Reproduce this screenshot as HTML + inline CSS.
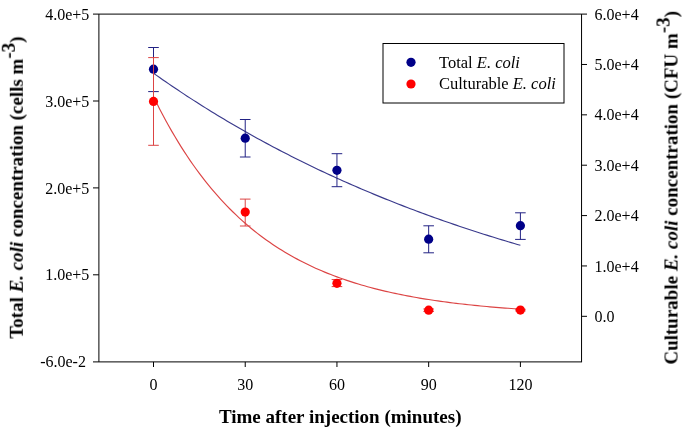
<!DOCTYPE html>
<html><head><meta charset="utf-8"><style>
html,body{margin:0;padding:0;background:#fff;}
svg{display:block;} .t{filter:grayscale(1);}
text{font-family:"Liberation Serif",serif;}
</style></head><body>
<svg width="685" height="431" viewBox="0 0 685 431">
<rect width="685" height="431" fill="#fff"/>
<g stroke="#000" stroke-width="1" fill="none">
<path d="M98.9,14.1V361.9M93,14.1H587M581.55,14.1V361.9M93,361.9H582.05"/>
<path d="M93,101.00H98.9"/>
<path d="M93,187.90H98.9"/>
<path d="M93,274.80H98.9"/>
<path d="M581.55,64.47H587"/>
<path d="M581.55,114.84H587"/>
<path d="M581.55,165.21H587"/>
<path d="M581.55,215.58H587"/>
<path d="M581.55,265.95H587"/>
<path d="M581.55,316.32H587"/>
<path d="M153.50,361.9V367"/>
<path d="M245.22,361.9V367"/>
<path d="M336.95,361.9V367"/>
<path d="M428.67,361.9V367"/>
<path d="M520.40,361.9V367"/>
</g>
<g class="t" font-size="16" fill="#000">
<text x="89.3" y="19.70" text-anchor="end">4.0e+5</text>
<text x="89.3" y="106.60" text-anchor="end">3.0e+5</text>
<text x="89.3" y="193.50" text-anchor="end">2.0e+5</text>
<text x="89.3" y="280.40" text-anchor="end">1.0e+5</text>
<text x="85.9" y="367.30" text-anchor="end">-6.0e-2</text>
<text x="594.5" y="19.70">6.0e+4</text>
<text x="594.5" y="70.07">5.0e+4</text>
<text x="594.5" y="120.44">4.0e+4</text>
<text x="594.5" y="170.81">3.0e+4</text>
<text x="594.5" y="221.18">2.0e+4</text>
<text x="594.5" y="271.55">1.0e+4</text>
<text x="594.5" y="321.92">0.0</text>
<text x="153.50" y="389.6" text-anchor="middle">0</text>
<text x="245.22" y="389.6" text-anchor="middle">30</text>
<text x="336.95" y="389.6" text-anchor="middle">60</text>
<text x="428.67" y="389.6" text-anchor="middle">90</text>
<text x="520.40" y="389.6" text-anchor="middle">120</text>
</g>
<path d="M153.50,73.24 L156.56,75.40 L159.62,77.55 L162.67,79.68 L165.73,81.79 L168.79,83.89 L171.84,85.97 L174.90,88.03 L177.96,90.08 L181.02,92.12 L184.07,94.14 L187.13,96.15 L190.19,98.14 L193.25,100.11 L196.31,102.07 L199.36,104.02 L202.42,105.95 L205.48,107.87 L208.53,109.77 L211.59,111.66 L214.65,113.54 L217.71,115.40 L220.76,117.25 L223.82,119.08 L226.88,120.90 L229.94,122.71 L233.00,124.50 L236.05,126.29 L239.11,128.05 L242.17,129.81 L245.22,131.55 L248.28,133.28 L251.34,134.99 L254.40,136.69 L257.45,138.38 L260.51,140.06 L263.57,141.73 L266.63,143.38 L269.69,145.02 L272.74,146.65 L275.80,148.26 L278.86,149.87 L281.91,151.46 L284.97,153.04 L288.03,154.61 L291.09,156.17 L294.14,157.71 L297.20,159.25 L300.26,160.77 L303.32,162.28 L306.38,163.78 L309.43,165.27 L312.49,166.75 L315.55,168.21 L318.61,169.67 L321.66,171.12 L324.72,172.55 L327.78,173.97 L330.83,175.39 L333.89,176.79 L336.95,178.18 L340.01,179.57 L343.06,180.94 L346.12,182.30 L349.18,183.65 L352.24,184.99 L355.30,186.32 L358.35,187.65 L361.41,188.96 L364.47,190.26 L367.52,191.55 L370.58,192.84 L373.64,194.11 L376.70,195.37 L379.75,196.63 L382.81,197.87 L385.87,199.11 L388.93,200.34 L391.99,201.56 L395.04,202.76 L398.10,203.96 L401.16,205.16 L404.22,206.34 L407.27,207.51 L410.33,208.68 L413.39,209.83 L416.44,210.98 L419.50,212.12 L422.56,213.25 L425.62,214.37 L428.67,215.49 L431.73,216.59 L434.79,217.69 L437.85,218.78 L440.90,219.86 L443.96,220.93 L447.02,222.00 L450.08,223.05 L453.13,224.10 L456.19,225.15 L459.25,226.18 L462.31,227.21 L465.36,228.22 L468.42,229.24 L471.48,230.24 L474.54,231.24 L477.59,232.22 L480.65,233.21 L483.71,234.18 L486.77,235.15 L489.82,236.11 L492.88,237.06 L495.94,238.00 L499.00,238.94 L502.05,239.88 L505.11,240.80 L508.17,241.72 L511.23,242.63 L514.28,243.53 L517.34,244.43 L520.40,245.32" stroke="#3a3a8c" stroke-width="1.15" fill="none"/>
<path d="M153.50,96.66 L156.56,102.87 L159.62,108.90 L162.67,114.75 L165.73,120.45 L168.79,125.98 L171.84,131.35 L174.90,136.58 L177.96,141.65 L181.02,146.59 L184.07,151.38 L187.13,156.04 L190.19,160.56 L193.25,164.96 L196.31,169.24 L199.36,173.39 L202.42,177.43 L205.48,181.35 L208.53,185.16 L211.59,188.86 L214.65,192.46 L217.71,195.96 L220.76,199.35 L223.82,202.66 L226.88,205.86 L229.94,208.98 L233.00,212.01 L236.05,214.96 L239.11,217.82 L242.17,220.60 L245.22,223.30 L248.28,225.92 L251.34,228.47 L254.40,230.95 L257.45,233.36 L260.51,235.70 L263.57,237.98 L266.63,240.19 L269.69,242.34 L272.74,244.42 L275.80,246.45 L278.86,248.42 L281.91,250.34 L284.97,252.20 L288.03,254.01 L291.09,255.76 L294.14,257.47 L297.20,259.13 L300.26,260.74 L303.32,262.31 L306.38,263.83 L309.43,265.31 L312.49,266.75 L315.55,268.15 L318.61,269.50 L321.66,270.82 L324.72,272.11 L327.78,273.35 L330.83,274.56 L333.89,275.74 L336.95,276.88 L340.01,277.99 L343.06,279.07 L346.12,280.12 L349.18,281.14 L352.24,282.13 L355.30,283.09 L358.35,284.03 L361.41,284.94 L364.47,285.82 L367.52,286.68 L370.58,287.51 L373.64,288.32 L376.70,289.11 L379.75,289.87 L382.81,290.62 L385.87,291.34 L388.93,292.04 L391.99,292.72 L395.04,293.39 L398.10,294.03 L401.16,294.66 L404.22,295.27 L407.27,295.86 L410.33,296.43 L413.39,296.99 L416.44,297.53 L419.50,298.06 L422.56,298.57 L425.62,299.07 L428.67,299.55 L431.73,300.02 L434.79,300.48 L437.85,300.92 L440.90,301.35 L443.96,301.77 L447.02,302.18 L450.08,302.58 L453.13,302.96 L456.19,303.33 L459.25,303.70 L462.31,304.05 L465.36,304.39 L468.42,304.73 L471.48,305.05 L474.54,305.36 L477.59,305.67 L480.65,305.97 L483.71,306.26 L486.77,306.54 L489.82,306.81 L492.88,307.07 L495.94,307.33 L499.00,307.58 L502.05,307.82 L505.11,308.06 L508.17,308.29 L511.23,308.51 L514.28,308.73 L517.34,308.94 L520.40,309.15" stroke="#dc4444" stroke-width="1.15" fill="none"/>
<g stroke="#222284" stroke-width="1" fill="none"><path d="M153.50,47.50V91.60M148.20,47.50H158.80M148.20,91.60H158.80"/>
<path d="M245.22,119.50V157.00M239.92,119.50H250.53M239.92,157.00H250.53"/>
<path d="M336.95,153.70V186.70M331.65,153.70H342.25M331.65,186.70H342.25"/>
<path d="M428.67,225.80V252.80M423.37,225.80H433.97M423.37,252.80H433.97"/>
<path d="M520.40,212.80V239.40M515.10,212.80H525.70M515.10,239.40H525.70"/></g>
<circle cx="153.50" cy="69.20" r="4.6" fill="#000088"/>
<circle cx="245.22" cy="138.20" r="4.6" fill="#000088"/>
<circle cx="336.95" cy="170.30" r="4.6" fill="#000088"/>
<circle cx="428.67" cy="239.20" r="4.6" fill="#000088"/>
<circle cx="520.40" cy="225.70" r="4.6" fill="#000088"/>
<g stroke="#dc4444" stroke-width="1" fill="none"><path d="M153.50,57.60V145.30M148.20,57.60H158.80M148.20,145.30H158.80"/>
<path d="M245.22,199.10V226.00M239.92,199.10H250.53M239.92,226.00H250.53"/>
<path d="M336.95,279.60V286.60M331.65,279.60H342.25M331.65,286.60H342.25"/>
<path d="M428.67,309.00V311.40M423.37,309.00H433.97M423.37,311.40H433.97"/>
<path d="M520.40,309.30V310.90M515.10,309.30H525.70M515.10,310.90H525.70"/></g>
<circle cx="153.50" cy="101.40" r="4.6" fill="#ff0000"/>
<circle cx="245.22" cy="212.10" r="4.6" fill="#ff0000"/>
<circle cx="336.95" cy="283.30" r="4.6" fill="#ff0000"/>
<circle cx="428.67" cy="310.20" r="4.6" fill="#ff0000"/>
<circle cx="520.40" cy="310.10" r="4.6" fill="#ff0000"/>
<rect x="383" y="43.5" width="181" height="59.5" fill="none" stroke="#000" stroke-width="1"/>
<circle cx="411" cy="62.3" r="4.6" fill="#000088"/>
<circle cx="411" cy="84" r="4.6" fill="#ff0000"/>
<g class="t" font-size="16.5" fill="#000">
<text x="439" y="68">Total <tspan font-style="italic">E. coli</tspan></text>
<text x="439" y="89.2">Culturable <tspan font-style="italic">E. coli</tspan></text>
</g>
<g class="t" font-size="19" font-weight="bold" fill="#000">
<text x="340.2" y="422.7" text-anchor="middle">Time after injection (minutes)</text>
<text transform="translate(22.8,187.6) rotate(-90)" text-anchor="middle">Total <tspan font-style="italic">E. coli</tspan> concentration (cells m<tspan dy="-7.8">-3</tspan><tspan dy="7.8">)</tspan></text>
<text transform="translate(677.5,187.8) rotate(-90)" text-anchor="middle">Culturable <tspan font-style="italic">E. coli</tspan> concentration (CFU m<tspan dy="-7.8">-3</tspan><tspan dy="7.8">)</tspan></text>
</g>
</svg>
</body></html>
